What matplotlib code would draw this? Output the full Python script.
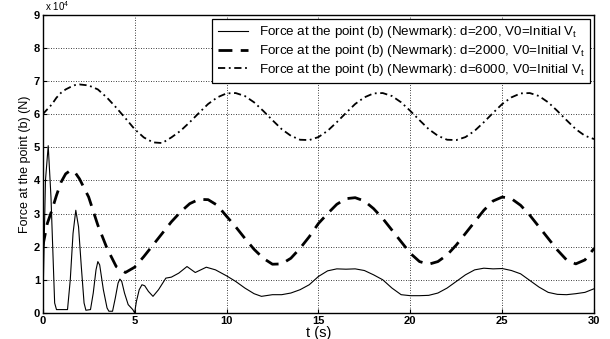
import matplotlib
matplotlib.use('Agg')
import matplotlib.pyplot as plt
import numpy as np

plt.rcParams['font.family'] = ['Liberation Sans', 'DejaVu Sans']
plt.rcParams['mathtext.fontset'] = 'custom'
plt.rcParams['mathtext.rm'] = 'Liberation Sans'

# d=200 (thin solid), values in 1e4 N
t200 = [0, 0.15, 0.3, 0.45, 0.65, 0.75, 1.35, 1.5, 1.65, 1.8, 1.95, 2.1, 2.25, 2.35, 2.6,
        2.75, 2.9, 3.0, 3.1, 3.3, 3.5, 3.6, 3.8, 3.95, 4.1, 4.2, 4.3, 4.45, 4.65, 4.9,
        5.0, 5.1, 5.25, 5.4, 5.55, 5.75, 6.0, 6.3,
        6.7, 7.0, 7.4, 7.85, 8.3, 8.9, 9.4, 10.0, 10.5, 11.0, 11.5, 11.9, 12.5, 13.0,
        13.5, 14.0, 14.5, 15.0, 15.5, 16.0, 16.5, 17.0, 17.5, 18.0, 18.5, 19.0, 19.5,
        20.0, 20.5, 21.0, 21.5, 22.0, 22.5, 23.0, 23.5, 24.0, 24.5, 25.0, 25.5, 26.0,
        26.5, 27.0, 27.5, 28.0, 28.5, 29.0, 29.5, 30.0]
f200 = [0, 4.0, 5.05, 3.5, 0.3, 0.1, 0.1, 1.0, 2.4, 3.1, 2.6, 1.4, 0.3, 0.08, 0.1,
        0.6, 1.3, 1.55, 1.45, 0.7, 0.15, 0.05, 0.05, 0.45, 0.9, 1.02, 0.95, 0.6, 0.25, 0.1,
        0.0, 0.35, 0.7, 0.85, 0.82, 0.65, 0.5, 0.7,
        1.05, 1.08, 1.2, 1.4, 1.22, 1.38, 1.3, 1.12, 0.95, 0.75, 0.58, 0.5, 0.55, 0.55,
        0.6, 0.7, 0.85, 1.1, 1.27, 1.33, 1.32, 1.33, 1.28, 1.15, 1.0, 0.75, 0.55,
        0.52, 0.52, 0.53, 0.6, 0.75, 0.95, 1.15, 1.3, 1.35, 1.33, 1.34, 1.28, 1.18,
        0.98, 0.78, 0.62, 0.56, 0.55, 0.58, 0.62, 0.73]

# d=2000 (thick dashed)
t2000 = [0, 0.25, 0.5, 0.75, 1.0, 1.25, 1.5, 1.75, 2.0, 2.5, 3.0, 3.5, 4.0, 4.5, 5.0,
         5.5, 6.0, 6.5, 7.0, 7.5, 8.0, 8.5, 9.0, 9.5, 10.0, 10.5, 11.0, 11.5, 12.0,
         12.5, 13.0, 13.5, 14.0, 14.5, 15.0, 15.5, 16.0, 16.5, 17.0, 17.5, 18.0, 18.5,
         19.0, 19.5, 20.0, 20.5, 21.0, 21.5, 22.0, 22.5, 23.0, 23.5, 24.0, 24.5, 25.0,
         25.5, 26.0, 26.5, 27.0, 27.5, 28.0, 28.5, 29.0, 29.5, 30.0]
f2000 = [2.0, 2.7, 3.1, 3.55, 3.95, 4.2, 4.3, 4.25, 4.05, 3.5, 2.65, 1.95, 1.4, 1.22, 1.38,
         1.7, 2.05, 2.4, 2.75, 3.05, 3.3, 3.43, 3.42, 3.25, 2.92, 2.6, 2.25, 1.92, 1.65,
         1.47, 1.48, 1.65, 1.95, 2.3, 2.7, 3.0, 3.28, 3.45, 3.48, 3.38, 3.15, 2.85,
         2.5, 2.15, 1.8, 1.55, 1.47, 1.55, 1.75, 2.05, 2.4, 2.75, 3.1, 3.38, 3.5,
         3.45, 3.25, 2.95, 2.6, 2.25, 1.9, 1.6, 1.48, 1.6, 1.95]

# d=6000 (dash-dot)
t6000 = t2000
f6000 = [6.0, 6.15, 6.3, 6.5, 6.65, 6.75, 6.82, 6.88, 6.9, 6.87, 6.75, 6.5, 6.2, 5.88, 5.55,
         5.3, 5.15, 5.13, 5.3, 5.5, 5.76, 6.04, 6.31, 6.51, 6.63, 6.64, 6.55, 6.36, 6.1,
         5.82, 5.55, 5.35, 5.23, 5.22, 5.31, 5.5, 5.76, 6.04, 6.31, 6.51, 6.63, 6.64,
         6.55, 6.36, 6.1, 5.82, 5.55, 5.35, 5.23, 5.22, 5.31, 5.5, 5.76, 6.04, 6.31,
         6.51, 6.63, 6.64, 6.55, 6.36, 6.1, 5.82, 5.55, 5.35, 5.25]

labels = ['Force at the point (b) (Newmark): d=200, V0=Initial V$_\\mathregular{t}$',
          'Force at the point (b) (Newmark): d=2000, V0=Initial V$_\\mathregular{t}$',
          'Force at the point (b) (Newmark): d=6000, V0=Initial V$_\\mathregular{t}$']

fig = plt.figure(figsize=(6.1, 3.39), dpi=100)
ax = fig.add_axes([0.070, 0.077, 0.904, 0.879])

ax.plot(t200, np.array(f200) * 1e4, color='black', lw=0.8, label=labels[0])
ax.plot(t2000, np.array(f2000) * 1e4, color='black', lw=2.0, dashes=(5, 3), label=labels[1])
ax.plot(t6000, np.array(f6000) * 1e4, color='black', lw=1.3, dashes=(4, 2, 1, 2), label=labels[2])

ax.set_xlim(0, 30)
ax.set_ylim(0, 9e4)
ax.set_xticks(np.arange(0, 31, 5))
ax.set_yticks(np.arange(0, 9.1e4, 1e4))
ax.set_yticklabels([str(i) for i in range(10)])
ax.tick_params(direction='in', labelsize=8, length=3, pad=2)
for lbl in ax.get_xticklabels() + ax.get_yticklabels():
    lbl.set_fontweight('bold')
ax.grid(True, color='black', linestyle=(0, (1, 2)), linewidth=0.6)
for s in ax.spines.values():
    s.set_linewidth(1.0)

ax.text(0.005, 1.005, 'x 10$^4$', transform=ax.transAxes, fontsize=7, ha='left', va='bottom')
ax.set_xlabel('t (s)', fontsize=10.5, labelpad=0)
ax.set_ylabel('Force at the point (b) (N)', fontsize=9, labelpad=2)

leg = ax.legend(loc='upper right', fontsize=9.6, handlelength=2.3, borderaxespad=0.3,
                fancybox=False, edgecolor='black', framealpha=1, labelspacing=0.22,
                borderpad=0.4)
leg.get_frame().set_linewidth(0.9)

fig.savefig('out.png', dpi=100)
